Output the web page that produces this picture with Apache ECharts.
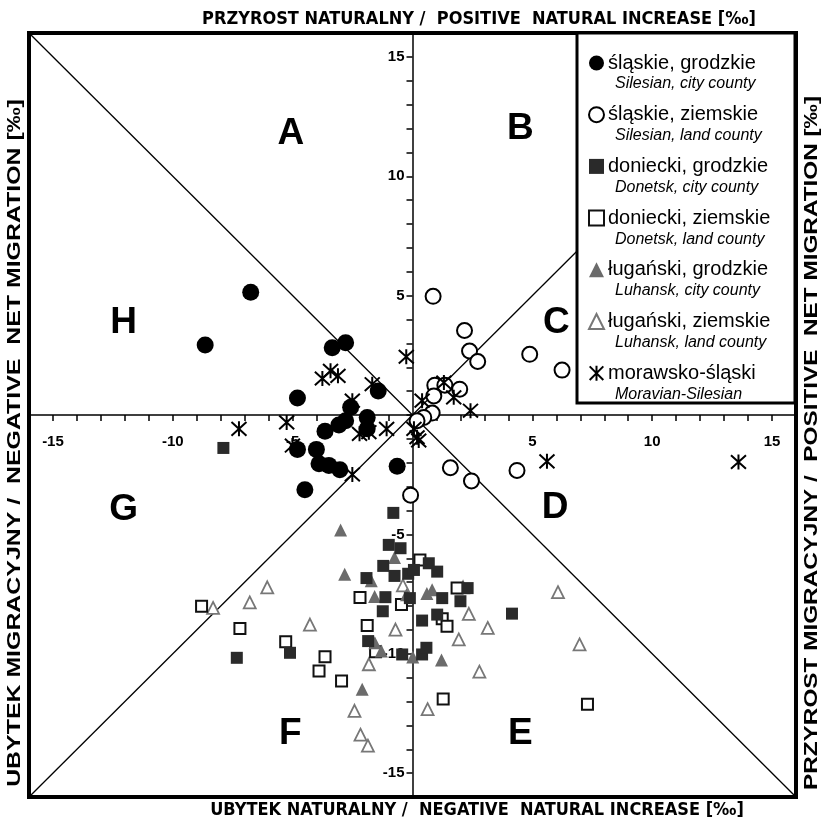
<!DOCTYPE html>
<html><head><meta charset="utf-8">
<script src="https://cdn.jsdelivr.net/npm/echarts@6/dist/echarts.min.js"></script>
<style>html,body{margin:0;padding:0;background:#fff}#c{width:827px;height:822px}</style>
</head><body><div id="c"></div>
<script>
// ---- data ----
const seriesNames = ['śląskie, grodzkie','śląskie, ziemskie','doniecki, grodzkie','doniecki, ziemskie','ługański, grodzkie','ługański, ziemskie','morawsko-śląski'];
const englishNames = ['Silesian, city county','Silesian, land county','Donetsk, city county','Donetsk, land county','Luhansk, city county','Luhansk, land county','Moravian-Silesian'];

// [net migration, natural increase]
const silesianCity = [[-6.75,5.14],[-8.65,2.93],[-3.35,2.82],[-2.79,3.03],[-4.8,0.71],[-1.43,1.01],[-2.58,0.32],[-1.89,-0.1],[-1.89,-0.58],[-2.79,-0.24],[-3.07,-0.42],[-3.65,-0.68],[-4.8,-1.44],[-4.01,-1.44],[-3.9,-2.04],[-3.49,-2.11],[-3.03,-2.29],[-0.64,-2.15],[-4.49,-3.13]];
const silesianLand = [[0.86,4.97],[2.17,3.54],[2.38,2.68],[2.72,2.24],[4.89,2.54],[6.24,1.88],[0.93,1.25],[1.35,1.25],[1.97,1.08],[0.89,0.8],[0.82,0.08],[0.47,-0.1],[0.19,-0.24],[1.58,-2.21],[2.46,-2.76],[4.36,-2.32],[-0.08,-3.36]];
const donetskCity = [[-0.8,-4.1],[-0.99,-5.44],[-0.5,-5.58],[-1.22,-6.32],[-0.75,-6.74],[-0.18,-6.65],[0.06,-6.49],[-1.92,-6.83],[-1.13,-7.63],[-0.11,-7.67],[-1.24,-8.22],[-1.85,-9.47],[-0.43,-10.03],[0.4,-10.03],[0.58,-9.75],[0.4,-8.61],[-7.33,-10.17],[-5.11,-9.96],[-7.89,-1.38],[0.68,-6.21],[1.03,-6.56],[1.24,-7.67],[2.0,-7.8],[2.3,-7.25],[1.03,-8.36],[4.15,-8.32]];
const donetskLand = [[0.31,-6.07],[-2.19,-7.64],[-0.46,-7.94],[-1.89,-8.82],[-1.54,-9.92],[-8.8,-8.01],[-7.2,-8.94],[-5.29,-9.5],[-3.65,-10.13],[-3.9,-10.72],[-2.96,-11.14],[1.86,-7.25],[1.24,-8.53],[1.44,-8.85],[1.28,-11.9],[7.3,-12.11]];
const luhanskCity = [[-3.0,-4.82],[-2.83,-6.67],[-1.72,-6.94],[-1.58,-7.6],[-0.75,-5.97],[-0.25,-7.53],[0.6,-7.48],[0.82,-7.32],[-1.57,-9.54],[-1.3,-9.89],[0.01,-10.14],[-2.1,-11.49],[1.21,-10.26]];
const luhanskLand = [[-8.32,-8.08],[-6.79,-7.85],[-6.06,-7.22],[-4.28,-8.78],[-0.4,-7.14],[-0.71,-8.99],[-1.82,-10.44],[-2.42,-12.39],[-2.17,-13.39],[-1.86,-13.85],[0.63,-12.32],[2.11,-7.22],[2.35,-8.33],[3.14,-8.92],[1.93,-9.4],[2.79,-10.75],[6.07,-7.42],[6.97,-9.61]];
const moravianSilesian = [[-0.26,2.44],[-3.76,1.53],[-3.42,1.85],[-3.11,1.64],[-1.68,1.29],[-2.51,0.6],[-5.25,-0.31],[-7.24,-0.58],[-5.01,-1.28],[-2.21,-0.79],[-1.82,-0.72],[-1.08,-0.58],[-2.51,-2.49],[0.19,-0.93],[0.4,0.6],[1.31,1.36],[1.72,0.74],[2.42,0.18],[0.26,-1.07],[0.06,-0.58],[5.61,-1.94],[13.6,-1.97]];

const xTickLabels = [-15,-10,-5,5,10,15];
const yTickLabels = [-15,-10,-5,5,10,15];
const regionLetters = [[-5.08,11.78,'A'],[4.5,11.98,'B'],[6.0,3.88,'C'],[5.95,-3.87,'D'],[4.5,-13.35,'E'],[-5.1,-13.35,'F'],[-12.05,-3.97,'G'],[-12.05,3.88,'H']];
const diagonalA = [[-16,16],[16,-16]];
const diagonalB = [[-16,-16],[16,16]];

// ---- chart ----
const FONT = '"Liberation Sans", Arial, Helvetica, sans-serif';
const NARROW = '"Liberation Sans Narrow", "DejaVu Sans Condensed", "Liberation Sans", sans-serif';
const chart = echarts.init(document.getElementById('c'), null, {renderer:'canvas'});

const GRID = {left:29, top:33, width:767, height:764};

const axisCommon = {
  type:'value', min:-16, max:16, interval:1,
  axisLine:{onZero:false, lineStyle:{color:'#000', width:1.5}},
  axisTick:{show:true, length:6, lineStyle:{color:'#000', width:1.5}},
  splitLine:{show:false}
};

const ASTER = 'path://M0,0L20,20M20,0L0,20M10,-1L10,21';

const legendTop = 53, itemH = 20, gap = 31.7;
const graphics = [
  {type:'rect', z:3, shape:{x:577, y:33, width:218, height:370}, style:{fill:'#fff', stroke:'#000', lineWidth:3}},
  {type:'text', z:5, x:479, y:19, style:{text:'PRZYROST NATURALNY /  POSITIVE  NATURAL INCREASE [‰]', fontSize:18, fontWeight:'bold', fontFamily:NARROW, align:'center', verticalAlign:'middle', fill:'#000'}},
  {type:'text', z:5, x:477, y:810, style:{text:'UBYTEK NATURALNY /  NEGATIVE  NATURAL INCREASE [‰]', fontSize:18, fontWeight:'bold', fontFamily:NARROW, align:'center', verticalAlign:'middle', fill:'#000'}},
  {type:'text', z:5, x:15, y:443, rotation:Math.PI/2, scaleX:1.31, style:{text:'UBYTEK MIGRACYJNY /  NEGATIVE  NET MIGRATION [‰]', fontSize:19, fontWeight:'bold', fontFamily:FONT, align:'center', verticalAlign:'middle', fill:'#000'}},
  {type:'text', z:5, x:812, y:443, rotation:Math.PI/2, scaleX:1.28, style:{text:'PRZYROST MIGRACYJNY /  POSITIVE  NET MIGRATION [‰]', fontSize:19, fontWeight:'bold', fontFamily:FONT, align:'center', verticalAlign:'middle', fill:'#000'}}
];
englishNames.forEach((t,i)=>{
  graphics.push({type:'text', z:5, x:615, y:legendTop + itemH/2 + i*(itemH+gap) + 21,
    style:{text:t, fontSize:16, fontStyle:'italic', fontFamily:FONT, align:'left', verticalAlign:'middle', fill:'#000'}});
});

function sc(name, data, symbol, size, itemStyle, z){
  return {name, type:'scatter', data, symbol, symbolSize:size, itemStyle:Object.assign({opacity:1}, itemStyle), z:z||2, emphasis:{disabled:true}, silent:true, animation:false};
}

const option = {
  animation:false,
  grid:Object.assign({show:true, borderColor:'#000', borderWidth:4, backgroundColor:'transparent'}, GRID),
  xAxis:Object.assign({}, axisCommon, {
    position:'bottom', offset:-GRID.height/2,
    axisLabel:{show:true, margin:19, fontSize:15, fontWeight:'bold', color:'#000', fontFamily:FONT,
      formatter:v=> xTickLabels.includes(v) ? String(v) : ''}
  }),
  yAxis:Object.assign({}, axisCommon, {
    position:'left', offset:-GRID.width/2,
    axisLabel:{show:true, margin:8, fontSize:15, fontWeight:'bold', color:'#000', fontFamily:FONT,
      formatter:v=> yTickLabels.includes(v) ? String(v) : ''}
  }),
  legend:{orient:'vertical', left:588, top:legendTop, itemWidth:15, itemHeight:15, itemGap:gap, padding:0,
    data:seriesNames, selectedMode:false, z:4,
    textStyle:{fontSize:20, lineHeight:20, color:'#000', fontFamily:FONT, padding:[0,0,0,-1]}},
  graphic:graphics,
  series:[
    {type:'line', data:diagonalA, symbol:'none', lineStyle:{color:'#000', width:1.3}, z:1, silent:true},
    {type:'line', data:diagonalB, symbol:'none', lineStyle:{color:'#000', width:1.3}, z:1, silent:true},
    {type:'scatter', data:regionLetters, symbolSize:1, itemStyle:{color:'transparent'}, z:1, silent:true,
      label:{show:true, position:'inside', formatter:p=>p.data[2], fontSize:37, fontWeight:'bold', color:'#000', opacity:1, fontFamily:FONT}},
    sc(seriesNames[5], luhanskLand, 'triangle', 12, {color:'#fff', borderColor:'#777', borderWidth:1.8}),
    sc(seriesNames[3], donetskLand, 'rect', 11, {color:'#fff', borderColor:'#111', borderWidth:2}),
    sc(seriesNames[4], luhanskCity, 'triangle', 13, {color:'#6b6b6b'}),
    sc(seriesNames[2], donetskCity, 'rect', 12, {color:'#2a2a2a'}),
    sc(seriesNames[1], silesianLand, 'circle', 15, {color:'#fff', borderColor:'#000', borderWidth:2}),
    sc(seriesNames[0], silesianCity, 'circle', 17, {color:'#000'}),
    sc(seriesNames[6], moravianSilesian, ASTER, 15, {color:'transparent', borderColor:'#000', borderWidth:2})
  ]
};
chart.setOption(option);
</script></body></html>
